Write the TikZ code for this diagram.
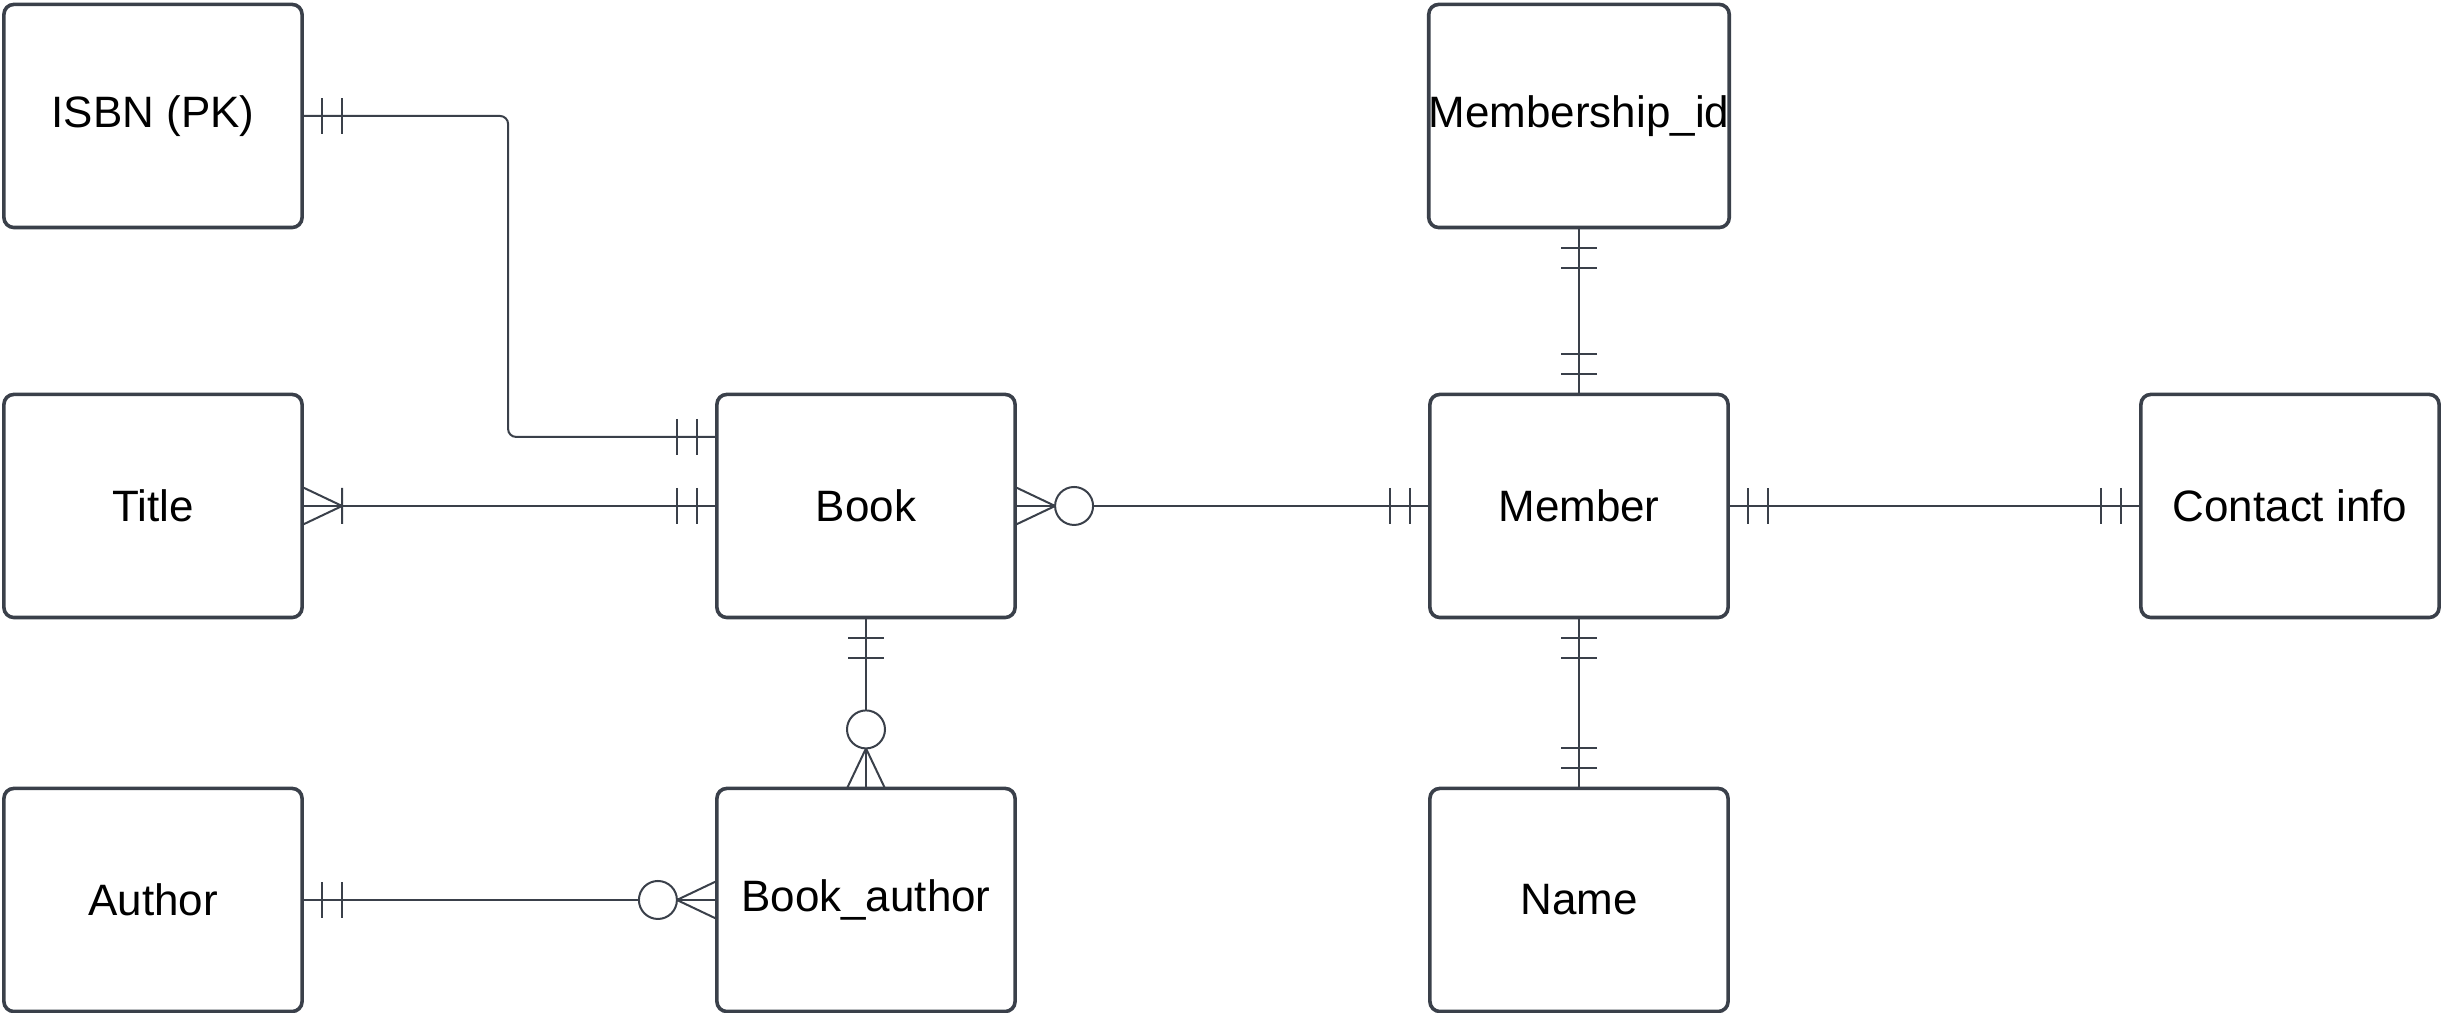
\documentclass[tikz,border=0pt]{standalone}
\usepackage{fontspec}
\setmainfont{Liberation Sans}
\definecolor{ink}{RGB}{58,64,74}
\begin{document}
\begin{tikzpicture}[x=0.01cm,y=0.01cm,
  entity/.style={draw=ink, line width=0.036cm, rounded corners=0.1cm,
    minimum width=2.98cm, minimum height=2.23cm, inner sep=0pt, outer sep=0pt,
    font=\fontsize{12.5}{14}\selectfont, text=black},
  conn/.style={draw=ink, line width=0.02cm},
  one/.pic={\draw[conn] (20,-18) -- (20,18) (40,-18) -- (40,18);},
  onemany/.pic={\draw[conn] (0,19) -- (40,0) -- (0,-19) (40,-18) -- (40,18);},
  zeromany/.pic={\draw[conn] (0,19) -- (40,0) -- (0,-19);
                 \draw[conn, fill=white] (59,0) circle[radius=19];},
]
\useasboundingbox (0,0) rectangle (2441,1013);

% entities
\node[entity] (isbn)       at (153,897)  {ISBN (PK)};
\node[entity] (title)      at (153,507)  {Title};
\node[entity] (author)     at (153,113)  {Author};
\node[entity] (book)       at (866,507)  {Book};
\node[entity] (bookauthor) at (866,113)  {Book\_author};
\node[entity] (memid)      at (1579,897) {Membership\_id};
\node[entity] (member)     at (1579,507) {Member};
\node[entity] (name)       at (1579,113) {Name};
\node[entity] (contact)    at (2290,507) {Contact info};

\coordinate (bk1) at ([yshift=0.69cm]book.west);

% connectors
\draw[conn, rounded corners=0.08cm] (isbn.east) -- ++(206,0) |- (bk1);
\draw[conn] (title.east) -- (book.west);
\draw[conn] (book.east) -- (member.west);
\draw[conn] (member.east) -- (contact.west);
\draw[conn] (memid.south) -- (member.north);
\draw[conn] (member.south) -- (name.north);
\draw[conn] (book.south) -- (bookauthor.north);
\draw[conn] (author.east) -- (bookauthor.west);

% cardinality markers
\pic at (isbn.east) {one};
\pic[rotate=180] at (bk1) {one};
\pic at (title.east) {onemany};
\pic[rotate=180] at (book.west) {one};
\pic at (book.east) {zeromany};
\pic[rotate=180] at (member.west) {one};
\pic at (member.east) {one};
\pic[rotate=180] at (contact.west) {one};
\pic[rotate=-90] at (memid.south) {one};
\pic[rotate=90] at (member.north) {one};
\pic[rotate=-90] at (member.south) {one};
\pic[rotate=90] at (name.north) {one};
\pic[rotate=-90] at (book.south) {one};
\pic[rotate=90] at (bookauthor.north) {zeromany};
\pic at (author.east) {one};
\pic[rotate=180] at (bookauthor.west) {zeromany};
\end{tikzpicture}
\end{document}
